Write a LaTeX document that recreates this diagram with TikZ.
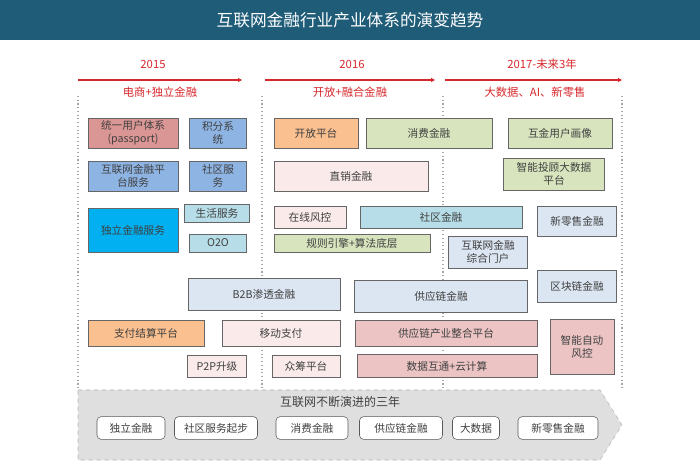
\documentclass[tikz,border=0pt]{standalone}
\usepackage{fontspec}
\setmainfont{Noto Sans CJK SC}
\usetikzlibrary{arrows.meta, positioning, shapes.symbols}
\definecolor{titlecolor}{RGB}{31,92,120}
\definecolor{yearred}{RGB}{214,40,44}
\definecolor{cred}{RGB}{218,150,148}
\definecolor{cblue}{RGB}{142,180,227}
\definecolor{corange}{RGB}{250,192,144}
\definecolor{cgreen}{RGB}{215,228,189}
\definecolor{cpink}{RGB}{250,234,234}
\definecolor{cpinkd}{RGB}{236,196,196}
\definecolor{ccyan}{RGB}{0,176,240}
\definecolor{ccyanl}{RGB}{183,222,232}
\definecolor{cgrey}{RGB}{220,230,242}

\begin{document}
\begin{tikzpicture}[
    x=0.75pt, y=-0.75pt,
    blk/.style={draw=gray!80!black, line width=0.7pt, font=\fontsize{8}{9.5}\selectfont, text=black!75, align=center, inner sep=1pt},
    sz/.style 2 args={minimum width=#1*0.75pt, minimum height=#2*0.75pt, text width=#1*0.75pt-4pt},
    pill/.style={draw=gray!70!black, fill=white, rounded corners=3pt, font=\fontsize{8}{9.5}\selectfont, text=black!75, minimum height=17pt},
    year/.style={text=yearred, font=\fontsize{8.5}{10}\selectfont},
    era/.style={-{Triangle[length=3pt, width=3pt]}, yearred, line width=1pt},
    sep/.style={gray!70, dotted, line width=0.8pt}
]
    \useasboundingbox (0,0) rectangle (700,470);
    % Title bar
    \fill[titlecolor] (0,0) rectangle (700,40);
    \node[text=white, font=\fontsize{12.5}{14}\selectfont] (title) at (350,20) {互联网金融行业产业体系的演变趋势};

    % Years
    \node[year] (y15) at (153,64) {2015};
    \node[year] (y16) at (352,64) {2016};
    \node[year] (y17) at (542,64) {2017-未来3年};
    \coordinate (a15s) at (78,80);  \coordinate (a15e) at (242,80);
    \coordinate (a16s) at (265,80); \coordinate (a16e) at (435,80);
    \coordinate (a17s) at (445,80); \coordinate (a17e) at (622,80);
    \draw[era] (a15s) -- (a15e);
    \draw[era] (a16s) -- (a16e);
    \draw[era] (a17s) -- (a17e);
    \node[year] (s15) at (160,92) {电商+独立金融};
    \node[year] (s16) at (350,92) {开放+融合金融};
    \node[year] (s17) at (535,92) {大数据、AI、新零售};

    % Separators
    \foreach \sx in {78,262,443,622}
        \draw[sep] (\sx,96) -- (\sx,390);

    % Row 1
    \node[blk, fill=cred, sz={90}{30}] (passport) at (133,133) {统一用户体系\\(passport)};
    \node[blk, fill=cblue, sz={57}{30}] (points) at (218,133) {积分系\\统};
    \node[blk, fill=corange, sz={84}{30}] (open) at (316,133) {开放平台};
    \node[blk, fill=cgreen, sz={126}{30}] (consume) at (429,133) {消费金融};
    \node[blk, fill=cgreen, sz={104}{30}] (portrait) at (560,133) {互金用户画像};

    % Row 2
    \node[blk, fill=cblue, sz={90}{30}] (platform) at (133,176) {互联网金融平\\台服务};
    \node[blk, fill=cblue, sz={57}{30}] (community) at (218,176) {社区服\\务};
    \node[blk, fill=cpink, sz={154}{30}] (direct) at (351,176) {直销金融};
    \node[blk, fill=cgreen, sz={101}{32}] (robo) at (554,174) {智能投顾大数据\\平台};

    % Row 3
    \node[blk, fill=ccyan, sz={90}{44}] (indep) at (133,230) {独立金融服务};
    \node[blk, fill=ccyanl, sz={65}{18}] (life) at (217,213) {生活服务};
    \node[blk, fill=ccyanl, sz={57}{18}] (o2o) at (218,243) {O2O};
    \node[blk, fill=cpink, sz={72}{22}] (risk) at (310,217) {在线风控};
    \node[blk, fill=ccyanl, sz={162}{22}] (commfin) at (441,217) {社区金融};
    \node[blk, fill=cgrey, sz={79}{30}] (retail) at (577,221) {新零售金融};
    \node[blk, fill=cgreen, sz={156}{18}] (rules) at (352,243) {规则引擎+算法底层};
    \node[blk, fill=cgrey, sz={79}{32}] (portal) at (488,252) {互联网金融\\综合门户};

    % Row 4
    \node[blk, fill=cgrey, sz={152}{32}] (b2b) at (264,294) {B2B渗透金融};
    \node[blk, fill=cgrey, sz={173}{32}] (supply) at (441,296) {供应链金融};
    \node[blk, fill=cgrey, sz={79}{32}] (chain) at (577,286) {区块链金融};

    % Row 5
    \node[blk, fill=corange, sz={116}{26}] (pay) at (146,333) {支付结算平台};
    \node[blk, fill=cpink, sz={118}{26}] (mobile) at (281,333) {移动支付};
    \node[blk, fill=cpinkd, sz={182}{26}] (integ) at (446,333) {供应链产业整合平台};
    \node[blk, fill=cpinkd, sz={64}{55}] (auto) at (582,347) {智能自动\\风控};

    % Row 6
    \node[blk, fill=cpink, sz={59}{22}] (p2p) at (217,366) {P2P升级};
    \node[blk, fill=cpink, sz={68}{22}] (crowd) at (306,366) {众筹平台};
    \node[blk, fill=cpinkd, sz={180}{23}] (cloud) at (447,366) {数据互通+云计算};

    % Bottom band
    \draw[gray!60, dashed, fill=gray!25] (78,390) -- (600,390) -- (622,425) -- (600,460) -- (78,460) -- cycle;
    \node[font=\fontsize{9}{11}\selectfont, text=black!75] (three) at (340,402) {互联网不断演进的三年};
    \node[pill, minimum width=68*0.75pt] (p1) at (131,428) {独立金融};
    \node[pill, minimum width=83*0.75pt] (p2) at (216,428) {社区服务起步};
    \node[pill, minimum width=72*0.75pt] (p3) at (312,428) {消费金融};
    \node[pill, minimum width=83*0.75pt] (p4) at (401,428) {供应链金融};
    \node[pill, minimum width=47*0.75pt] (p5) at (476,428) {大数据};
    \node[pill, minimum width=80*0.75pt] (p6) at (558,428) {新零售金融};
\end{tikzpicture}
\end{document}
